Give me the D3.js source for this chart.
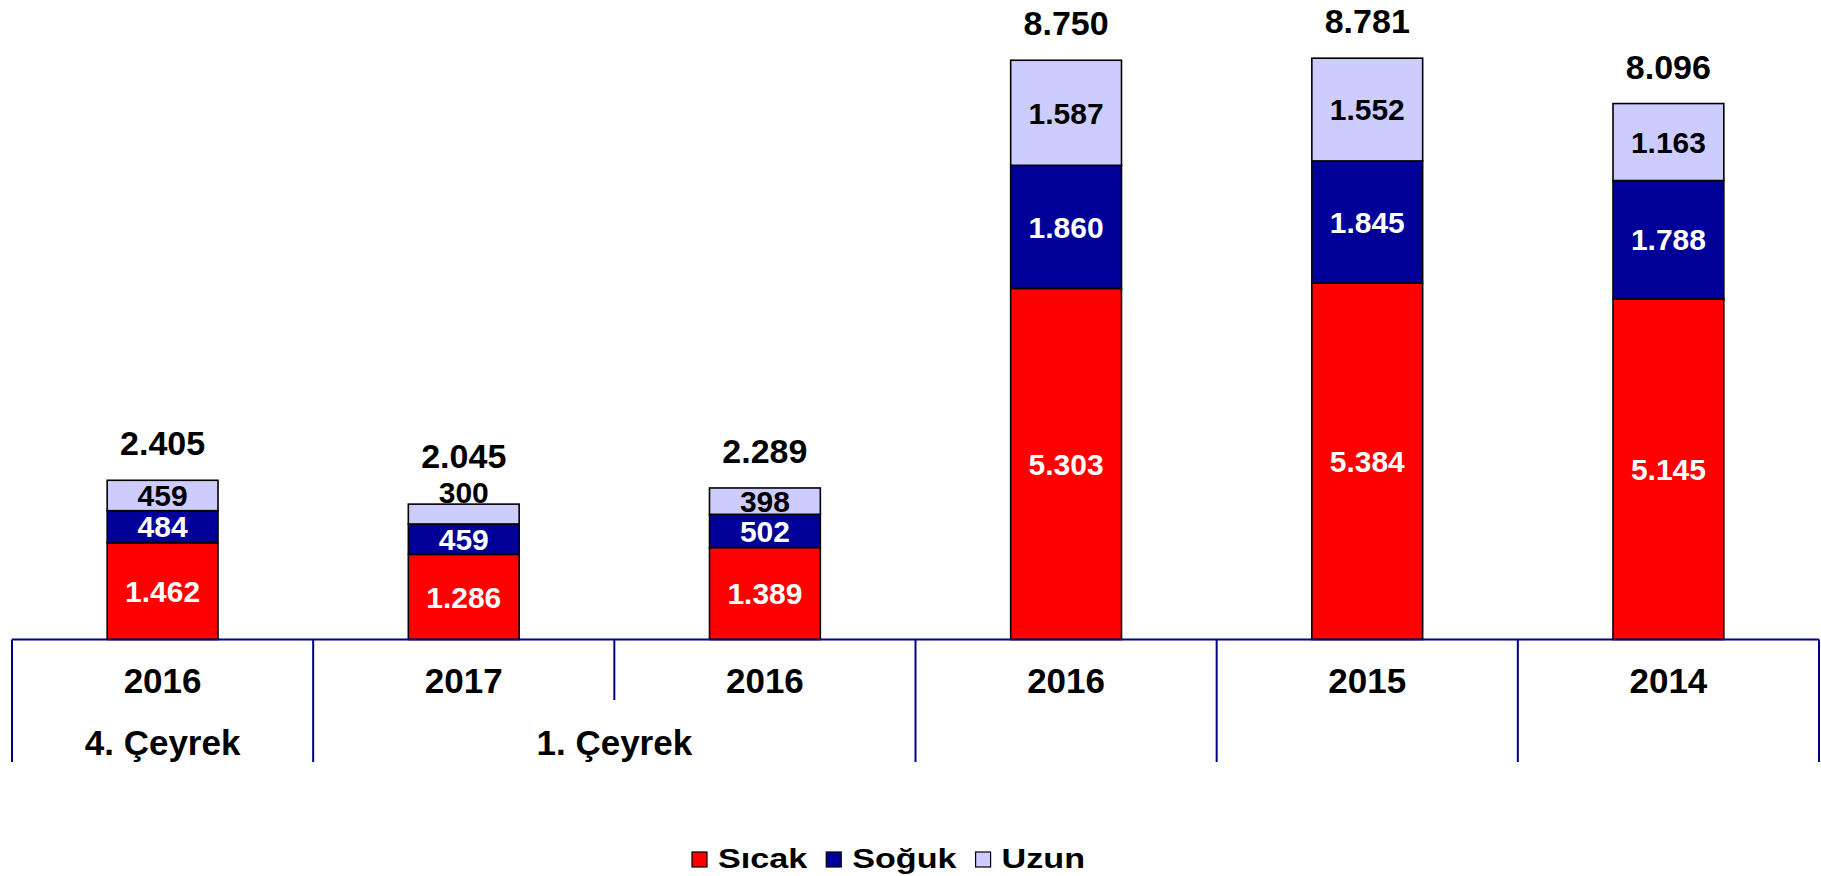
<!DOCTYPE html>
<html>
<head>
<meta charset="utf-8">
<script src="https://cdn.jsdelivr.net/npm/d3@7"></script>
<style>
  html, body { margin: 0; padding: 0; background: #fff; }
  svg { display: block; }
  text { font-family: "Liberation Sans", Arial, sans-serif; font-weight: bold; }
</style>
</head>
<body>
<svg id="chart" width="1821" height="876"></svg>
<script>
// ---- Data ----
const years = ["2016", "2017", "2016", "2016", "2015", "2014"];
const groups = [
  { label: "4. Çeyrek", span: 1 },
  { label: "1. Çeyrek", span: 2 },
  { label: "", span: 1 },
  { label: "", span: 1 },
  { label: "", span: 1 }
];
const seriesNames = ["Sıcak", "Soğuk", "Uzun"];
const sicak = [1462, 1286, 1389, 5303, 5384, 5145];
const soguk = [484, 459, 502, 1860, 1845, 1788];
const uzun  = [459, 300, 398, 1587, 1552, 1163];
const colors = ["#FF0000", "#000099", "#CCCCFF"];
const labelColors = ["#FFFFFF", "#FFFFFF", "#000000"];

// ---- Layout ----
const svg = d3.select("#chart");
const baseY = 639.5;
const fmt = d3.formatLocale({ decimal: ",", thousands: ".", grouping: [3], currency: ["", ""] }).format(",d");

const rows = years.map((y, i) => ({ key: i, year: y, "Sıcak": sicak[i], "Soğuk": soguk[i], "Uzun": uzun[i] }));
const stack = d3.stack().keys(seriesNames)(rows);
const totals = rows.map(r => r["Sıcak"] + r["Soğuk"] + r["Uzun"]);

const x = d3.scaleBand().domain(d3.range(years.length)).range([12, 1819]).paddingInner(0).paddingOuter(0);
const y = d3.scaleLinear().domain([0, 9000]).range([baseY, baseY - 9000 * 0.0662]);
const barW = x.bandwidth() * 0.368;

// ---- Bars ----
const layers = svg.append("g").selectAll("g").data(stack).join("g")
  .attr("fill", (d, i) => colors[i]);
layers.selectAll("rect").data(d => d).join("rect")
  .attr("x", (d, i) => x(i) + (x.bandwidth() - barW) / 2)
  .attr("width", barW)
  .attr("y", d => y(d[1]))
  .attr("height", d => y(d[0]) - y(d[1]))
  .attr("stroke", "#000")
  .attr("stroke-width", 1.6);

// ---- Segment labels ----
const innerSize = 30, cap = 0.716;
const uzunLabelBase = [];
stack.forEach((layer, si) => {
  layer.forEach((d, i) => {
    const top = y(d[1]), bot = y(d[0]);
    const h = bot - top;
    let base;
    if (h < innerSize * cap) {
      base = top - 1.5;        // too small: sit on top of the segment
    } else {
      base = (top + bot) / 2 + innerSize * cap / 2;
    }
    if (si === 2) uzunLabelBase[i] = base;
    svg.append("text")
      .attr("x", x(i) + x.bandwidth() / 2)
      .attr("y", base)
      .attr("text-anchor", "middle")
      .attr("font-size", innerSize)
      .attr("fill", labelColors[si])
      .text(fmt(d[1] - d[0]));
  });
});

// ---- Total labels ----
rows.forEach((r, i) => {
  const top = y(totals[i]);
  const base = Math.min(top - 25, uzunLabelBase[i] - 35);
  svg.append("text")
    .attr("x", x(i) + x.bandwidth() / 2)
    .attr("y", base)
    .attr("text-anchor", "middle")
    .attr("font-size", 34)
    .attr("fill", "#000")
    .text(fmt(totals[i]));
});

// ---- Category axis (multi-level) ----
const axisColor = "#000080";
svg.append("line")
  .attr("x1", x.range()[0]).attr("x2", x.range()[1])
  .attr("y1", baseY).attr("y2", baseY)
  .attr("stroke", axisColor).attr("stroke-width", 2);

// group boundaries
const groupStarts = [];
let acc = 0;
groups.forEach(g => { groupStarts.push(acc); acc += g.span; });
const boundarySet = new Set(groupStarts.concat([years.length]));

d3.range(years.length + 1).forEach(k => {
  const xx = k < years.length ? x(k) : x.range()[1];
  const full = boundarySet.has(k);
  svg.append("line")
    .attr("x1", xx).attr("x2", xx)
    .attr("y1", baseY).attr("y2", full ? 762 : 700)
    .attr("stroke", axisColor).attr("stroke-width", 2);
});

// year labels
years.forEach((yr, i) => {
  svg.append("text")
    .attr("x", x(i) + x.bandwidth() / 2)
    .attr("y", 693)
    .attr("text-anchor", "middle")
    .attr("font-size", 35)
    .attr("fill", "#000")
    .text(yr);
});

// group labels
groups.forEach((g, gi) => {
  if (!g.label) return;
  const s = groupStarts[gi];
  const x0 = x(s), x1 = x(s + g.span - 1) + x.bandwidth();
  svg.append("text")
    .attr("x", (x0 + x1) / 2)
    .attr("y", 755)
    .attr("text-anchor", "middle")
    .attr("font-size", 35)
    .attr("fill", "#000")
    .text(g.label);
});

// ---- Legend ----
const legendScaleX = 1.22;
let lx = 692;
seriesNames.forEach((name, i) => {
  svg.append("rect")
    .attr("x", lx).attr("y", 852)
    .attr("width", 15).attr("height", 15)
    .attr("fill", colors[i])
    .attr("stroke", "#000").attr("stroke-width", 1.2);
  const t = svg.append("text")
    .attr("transform", `translate(${lx + 26},867.5) scale(${legendScaleX},1)`)
    .attr("font-size", 28)
    .attr("fill", "#000")
    .text(name);
  const w = t.node().getComputedTextLength() * legendScaleX;
  lx = lx + 26 + w + 19;
});
</script>
</body>
</html>
